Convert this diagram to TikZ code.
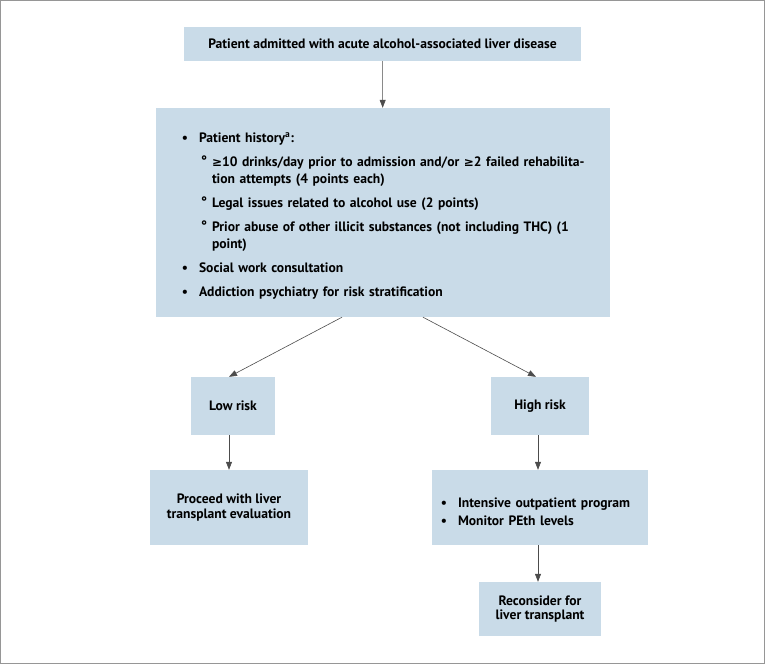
\documentclass[tikz,border=0pt]{standalone}
\usepackage{fontspec}
\setmainfont{PT Sans}
\newfontfamily\symfont{DejaVu Sans}
\usepackage{enumitem}
\usetikzlibrary{arrows.meta}
\definecolor{boxblue}{RGB}{201,219,232}
\definecolor{framegray}{RGB}{150,150,150}
\newcommand{\ringmark}{\raisebox{0.1ex}{°}}
\newcommand{\gesign}{{\symfont\fontsize{12pt}{12pt}\selectfont ≥}}
\begin{document}
\begin{tikzpicture}[x=1pt,y=-1pt,>={Triangle[length=8pt,width=6pt]},
  box/.style={fill=boxblue,inner sep=0pt,align=center,
    font=\bfseries\fontsize{13.6pt}{14.5pt}\selectfont},
  link/.style={->,draw=black!70,line width=0.6pt}]
  \useasboundingbox (0,0) rectangle (765,664);
  \draw[framegray,line width=1.2pt] (0.6,0.6) rectangle (764.4,663.4);

  \node[box,minimum width=397,minimum height=34] (admit) at (382.5,44) {Patient admitted with acute alcohol-associated liver disease};
  \node[box,minimum width=454,minimum height=209,text width=454pt,align=left,
    font=\bfseries\fontsize{13.6pt}{17pt}\selectfont] (hist) at (383,212.5) {%
    \begin{itemize}[leftmargin=43pt,labelsep=11pt,topsep=0pt,partopsep=0pt,itemsep=7pt,parsep=0pt,label=\textbullet]
      \item Patient history\textsuperscript{a}:
      \begin{itemize}[leftmargin=13pt,labelsep=5pt,topsep=7pt,partopsep=0pt,itemsep=7pt,parsep=0pt,label=\ringmark]
        \item \gesign10 drinks/day prior to admission and/or \gesign2 failed rehabilita-\newline tion attempts (4 points each)
        \item Legal issues related to alcohol use (2 points)
        \item Prior abuse of other illicit substances (not including THC) (1\newline point)
      \end{itemize}
      \item Social work consultation
      \item Addiction psychiatry for risk stratification
    \end{itemize}\par\vspace{6pt}};
  \node[box,minimum width=84,minimum height=58] (low) at (233,406) {Low risk};
  \node[box,minimum width=98,minimum height=58] (high) at (540,406) {High risk};
  \node[box,minimum width=158,minimum height=75] (proceed) at (229,507.5) {Proceed with liver\\transplant evaluation};
  \node[box,minimum width=216,minimum height=75,text width=216pt,align=left,
    font=\bfseries\fontsize{13.6pt}{18pt}\selectfont] (program) at (540,507.5) {%
    \begin{itemize}[leftmargin=26pt,labelsep=11pt,topsep=0pt,partopsep=0pt,itemsep=0pt,parsep=0pt,label=\textbullet]
      \item Intensive outpatient program
      \item Monitor PEth levels
    \end{itemize}};
  \node[box,minimum width=122,minimum height=54] (reconsider) at (540,609) {Reconsider for\\liver transplant};

  \draw[link] (admit) -- (hist);
  \draw[link] ([xshift=-41pt]hist.south) -- ([xshift=-4pt]low.north);
  \draw[link] ([xshift=40pt]hist.south) -- ([xshift=-4pt]high.north);
  \draw[link] (proceed.north |- low.south) -- (proceed.north);
  \draw[link] ([xshift=-2pt]high.south) -- ([xshift=-2pt]program.north);
  \draw[link] ([xshift=-2pt]program.south) -- ([xshift=-2pt]reconsider.north);
\end{tikzpicture}
\end{document}
